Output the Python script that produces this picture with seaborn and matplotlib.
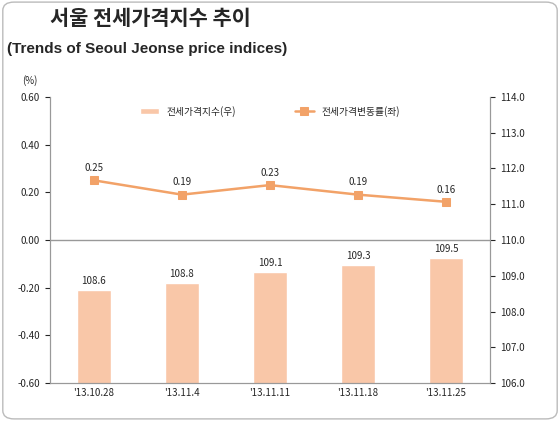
import matplotlib
matplotlib.use("Agg")
import matplotlib.pyplot as plt
import seaborn as sns
import pandas as pd
from matplotlib.patches import FancyBboxPatch

sns.set_style("white")
plt.rcParams['font.family'] = ['Noto Sans CJK KR', 'DejaVu Sans']

dates = ["'13.10.28", "'13.11.4", "'13.11.11", "'13.11.18", "'13.11.25"]
index_vals = [108.6, 108.8, 109.1, 109.3, 109.5]
change_vals = [0.25, 0.19, 0.23, 0.19, 0.16]

bar_color = "#F9C7A8"
line_color = "#F2A268"

fig = plt.figure(figsize=(5.6, 4.21), dpi=100)
fig.patches.append(FancyBboxPatch((0.005, 0.005), 0.99, 0.99, boxstyle="round,pad=0,rounding_size=0.02",
                                  transform=fig.transFigure, fill=False, edgecolor="#BBBBBB", lw=1))
ax = fig.add_axes([0.089, 0.09, 0.786, 0.68])
ax2 = ax.twinx()

df = pd.DataFrame({"date": dates, "idx": index_vals, "chg": change_vals, "pos": range(len(dates))})
sns.barplot(data=df, x="date", y="idx", ax=ax2, color=bar_color, width=0.38, saturation=1,
            label="전세가격지수(우)")
ax2.set_ylim(106, 114)
ax2.set_yticks([106 + i for i in range(9)])
ax2.set_yticklabels([f"{106 + i:.1f}" for i in range(9)], fontsize=7)
ax2.set_ylabel("")
for i, v in enumerate(index_vals):
    ax2.text(i, v + 0.12, f"{v}", ha="center", va="bottom", fontsize=7)

sns.lineplot(data=df, x="pos", y="chg", ax=ax, color=line_color, marker="s", markersize=6,
             markeredgecolor=line_color, lw=1.8, label="전세가격변동률(좌)")
ax.set_zorder(ax2.get_zorder() + 1)
ax.patch.set_visible(False)
ax.set_ylim(-0.6, 0.6)
ax.set_yticks([-0.6 + 0.2 * i for i in range(7)])
ax.set_yticklabels([f"{-0.6 + 0.2 * i:.2f}" for i in range(7)], fontsize=7)
ax.axhline(0, color="#999999", lw=1)
ax.set_xlim(-0.5, 4.5)
ax.set_xticks(range(len(dates)))
ax.set_xticklabels(dates, fontsize=7)
ax.set_xlabel(""); ax.set_ylabel("")
ax.tick_params(axis="x", length=0)
for i, v in enumerate(change_vals):
    ax.text(i, v + 0.03, f"{v:.2f}", ha="center", va="bottom", fontsize=7)
for a in (ax, ax2):
    for s in a.spines.values():
        s.set_color("#999999")
ax.spines["top"].set_visible(False); ax2.spines["top"].set_visible(False)

h1, l1 = ax2.get_legend_handles_labels()
h2, l2 = ax.get_legend_handles_labels()
ax.legend(h1 + h2, l1 + l2, loc="upper center", ncol=2, frameon=False, fontsize=7,
          bbox_to_anchor=(0.5, 1.0), columnspacing=6)
if ax2.get_legend():
    ax2.get_legend().remove()

fig.text(0.09, 0.94, "서울 전세가격지수 추이", fontsize=15, fontweight="bold", ha="left")
fig.text(0.012, 0.875, "(Trends of Seoul Jeonse price indices)", fontsize=11, fontweight="bold",
         ha="left", family=["Liberation Sans", "DejaVu Sans"])
fig.text(0.04, 0.8, "(%)", fontsize=7)
fig.savefig("out.png", dpi=100)
